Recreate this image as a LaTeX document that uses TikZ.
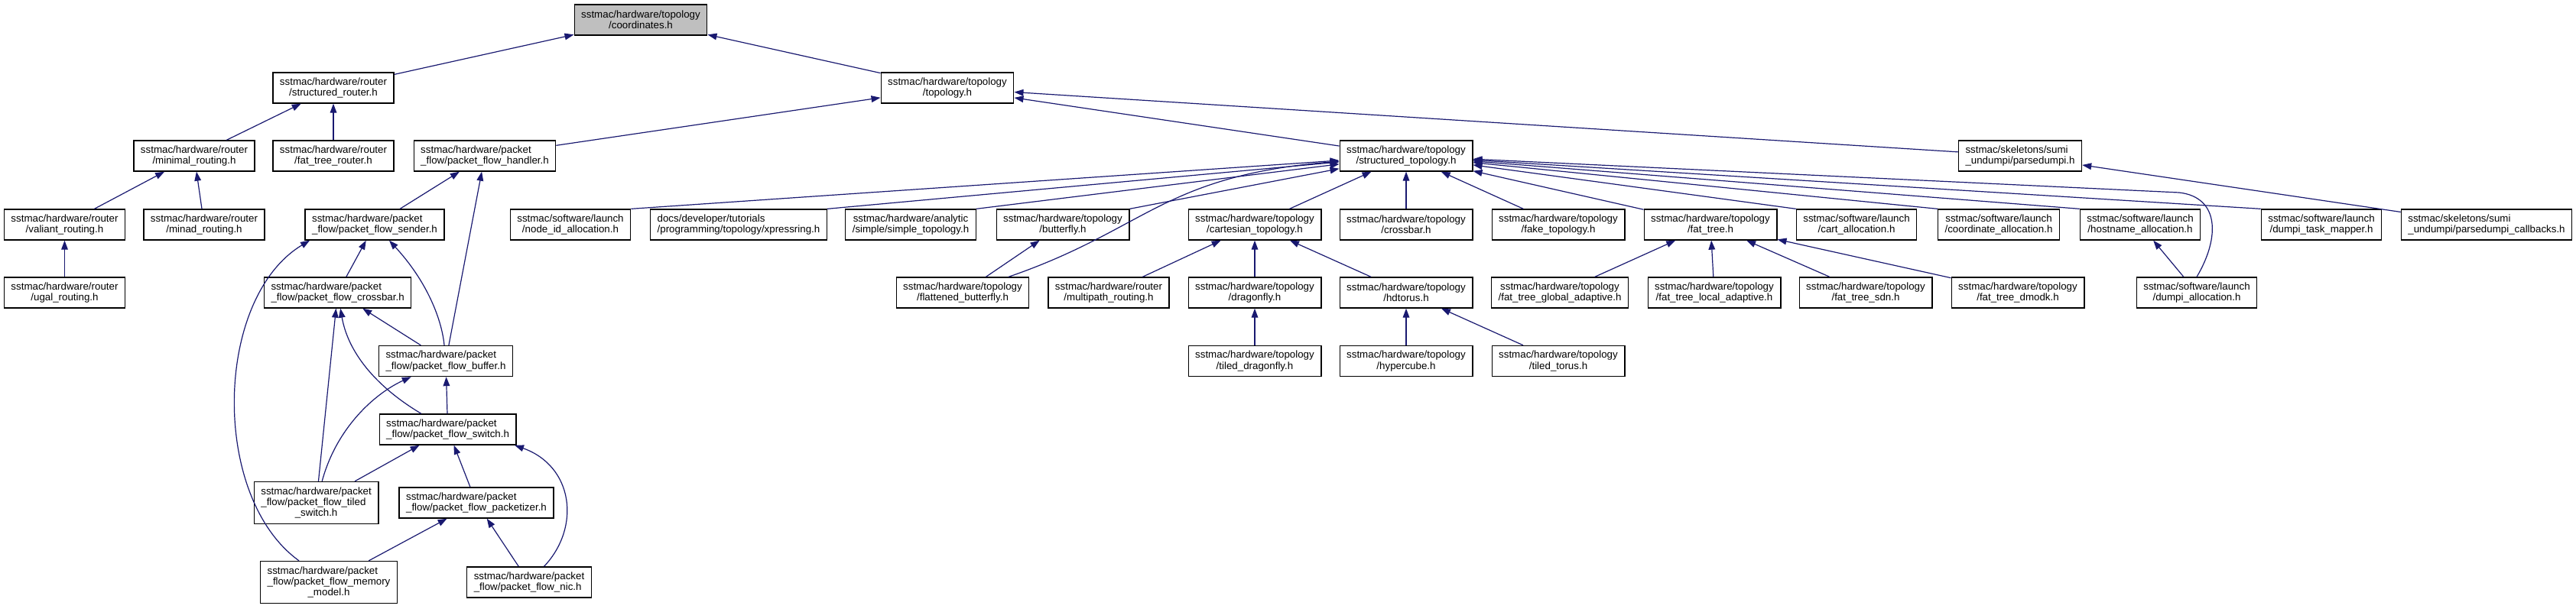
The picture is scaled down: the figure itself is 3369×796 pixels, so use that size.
\documentclass[tikz,border=0pt]{standalone}
\usepackage{fontspec}
\setmainfont{Liberation Sans}
\usepackage{tikz}
\usetikzlibrary{arrows.meta}
\definecolor{edgeblue}{RGB}{25,25,112}
\definecolor{rootgray}{RGB}{191,191,191}

\begin{document}
\begin{tikzpicture}[
    x=0.75pt, y=-0.75pt,
    file/.style={draw=black, line width=1pt, fill=white, align=center, font=\fontsize{10}{10.75}\selectfont,
                 inner xsep=6.75pt, inner ysep=2pt, minimum height=30pt},
    lfile/.style={file, align=left},
    tall/.style={minimum height=41.25pt},
    root/.style={file, fill=rootgray},
    dep/.style={draw=edgeblue, line width=0.9pt, -{Triangle[length=9pt, width=6.5pt]}}
]
\useasboundingbox (0,0) rectangle (3369,796);

\node[root] (coord) at (838,26) {sstmac/hardware/topology\\/coordinates.h};

\node[file] (srouter) at (436,115) {sstmac/hardware/router\\/structured\_router.h};
\node[file] (topo) at (1239,115) {sstmac/hardware/topology\\/topology.h};

\node[file] (minrt) at (254,204) {sstmac/hardware/router\\/minimal\_routing.h};
\node[file] (ftrouter) at (436,204) {sstmac/hardware/router\\/fat\_tree\_router.h};
\node[lfile] (handler) at (634,204) {sstmac/hardware/packet\\\_flow/packet\_flow\_handler.h};
\node[file] (stopo) at (1839,204) {sstmac/hardware/topology\\/structured\_topology.h};
\node[lfile] (parsed) at (2642,204) {sstmac/skeletons/sumi\\\_undumpi/parsedumpi.h};

\node[file] (valiant) at (84.5,294) {sstmac/hardware/router\\/valiant\_routing.h};
\node[file] (minad) at (267,294) {sstmac/hardware/router\\/minad\_routing.h};
\node[lfile] (sender) at (490,294) {sstmac/hardware/packet\\\_flow/packet\_flow\_sender.h};
\node[file] (nodeid) at (746,294) {sstmac/software/launch\\/node\_id\_allocation.h};
\node[lfile] (xpress) at (966,294) {docs/developer/tutorials\\/programming/topology/xpressring.h};
\node[file] (simple) at (1191,294) {sstmac/hardware/analytic\\/simple/simple\_topology.h};
\node[file] (bfly) at (1390,294) {sstmac/hardware/topology\\/butterfly.h};
\node[file] (cart) at (1641,294) {sstmac/hardware/topology\\/cartesian\_topology.h};
\node[file] (xbar) at (1839,294) {sstmac/hardware/topology\\/crossbar.h};
\node[file] (fake) at (2038,294) {sstmac/hardware/topology\\/fake\_topology.h};
\node[file] (ftree) at (2237,294) {sstmac/hardware/topology\\/fat\_tree.h};
\node[file] (cartalloc) at (2428,294) {sstmac/software/launch\\/cart\_allocation.h};
\node[file] (coordalloc) at (2614,294) {sstmac/software/launch\\/coordinate\_allocation.h};
\node[file] (hostalloc) at (2799,294) {sstmac/software/launch\\/hostname\_allocation.h};
\node[file] (taskmap) at (3036,294) {sstmac/software/launch\\/dumpi\_task\_mapper.h};
\node[lfile] (callbacks) at (3252,294) {sstmac/skeletons/sumi\\\_undumpi/parsedumpi\_callbacks.h};

\node[file] (ugal) at (84.5,383) {sstmac/hardware/router\\/ugal\_routing.h};
\node[lfile] (pfxbar) at (441.6,383) {sstmac/hardware/packet\\\_flow/packet\_flow\_crossbar.h};
\node[file] (flatbf) at (1259,383) {sstmac/hardware/topology\\/flattened\_butterfly.h};
\node[file] (multipath) at (1450,383) {sstmac/hardware/router\\/multipath\_routing.h};
\node[file] (dfly) at (1641,383) {sstmac/hardware/topology\\/dragonfly.h};
\node[file] (hdtorus) at (1839,383) {sstmac/hardware/topology\\/hdtorus.h};
\node[file] (ftglobal) at (2040,383) {sstmac/hardware/topology\\/fat\_tree\_global\_adaptive.h};
\node[file] (ftlocal) at (2242,383) {sstmac/hardware/topology\\/fat\_tree\_local\_adaptive.h};
\node[file] (ftsdn) at (2440,383) {sstmac/hardware/topology\\/fat\_tree\_sdn.h};
\node[file] (ftdmodk) at (2639,383) {sstmac/hardware/topology\\/fat\_tree\_dmodk.h};
\node[file] (dumpialloc) at (2873,383) {sstmac/software/launch\\/dumpi\_allocation.h};

\node[lfile] (buffer) at (583,472.5) {sstmac/hardware/packet\\\_flow/packet\_flow\_buffer.h};
\node[file] (tdfly) at (1641,472.5) {sstmac/hardware/topology\\/tiled\_dragonfly.h};
\node[file] (hcube) at (1839,472.5) {sstmac/hardware/topology\\/hypercube.h};
\node[file] (ttorus) at (2038,472.5) {sstmac/hardware/topology\\/tiled\_torus.h};

\node[lfile] (switch) at (585.6,562) {sstmac/hardware/packet\\\_flow/packet\_flow\_switch.h};

\node[lfile, tall] (tswitch) at (413.6,658) {sstmac/hardware/packet\\\_flow/packet\_flow\_tiled\\\hfil\_switch.h};
\node[lfile] (packetizer) at (623,658) {sstmac/hardware/packet\\\_flow/packet\_flow\_packetizer.h};

\node[lfile, tall] (memmodel) at (430,762) {sstmac/hardware/packet\\\_flow/packet\_flow\_memory\\\hfil\_model.h};
\node[lfile] (nic) at (692,762) {sstmac/hardware/packet\\\_flow/packet\_flow\_nic.h};

\draw[dep] (srouter) -- (coord);
\draw[dep] (topo) -- (coord);
\draw[dep] (minrt) -- (srouter);
\draw[dep] (ftrouter) -- (srouter);
\foreach \f in {handler, stopo, parsed}
    \draw[dep] (\f) -- (topo);
\draw[dep] (valiant) -- (minrt);
\draw[dep] (minad) -- (minrt);
\draw[dep] (ugal) -- (valiant);
\draw[dep] (sender) -- (handler);
\draw[dep] (buffer) -- (handler);
\draw[dep] (pfxbar) -- (sender);
\draw[dep] (buffer) .. controls (578,420) and (560,370) .. (sender);
\draw[dep] (memmodel) .. controls (275,650) and (280,390) .. ([xshift=5pt]sender.south west);
\draw[dep] (buffer) -- (pfxbar);
\draw[dep] (tswitch) -- (pfxbar);
\draw[dep] (switch) .. controls (490,505) and (455,460) .. (pfxbar);
\draw[dep] (tswitch) .. controls (440,560) and (490,515) .. (buffer);
\draw[dep] (switch) -- (buffer);
\draw[dep] (tswitch) -- (switch);
\draw[dep] (packetizer) -- (switch);
\draw[dep] (nic) .. controls (760,690) and (750,610) .. ([xshift=-2pt]switch.south east);
\draw[dep] (memmodel) -- (packetizer);
\draw[dep] (nic) -- (packetizer);

\foreach \f in {nodeid, xpress, simple, bfly}
    \draw[dep] (\f.north east) -- (stopo);
\foreach \f in {cart, xbar, fake, ftree}
    \draw[dep] (\f) -- (stopo);
\foreach \f in {cartalloc, coordalloc, hostalloc, taskmap}
    \draw[dep] (\f.north west) -- (stopo);
\draw[dep] (flatbf) .. controls (1500,300) and (1520,230) .. (stopo);
\draw[dep] (dumpialloc.north) .. controls (2904,310) and (2902,258) .. (2850,252) -- (stopo);
\draw[dep] (callbacks) -- (parsed);

\draw[dep] (flatbf) -- (bfly);
\foreach \f in {multipath, dfly, hdtorus}
    \draw[dep] (\f) -- (cart);
\draw[dep] (tdfly) -- (dfly);
\draw[dep] (hcube) -- (hdtorus);
\draw[dep] (ttorus) -- (hdtorus);
\foreach \f in {ftglobal, ftlocal, ftsdn, ftdmodk}
    \draw[dep] (\f) -- (ftree);
\draw[dep] (dumpialloc) -- (hostalloc);

\end{tikzpicture}
\end{document}
